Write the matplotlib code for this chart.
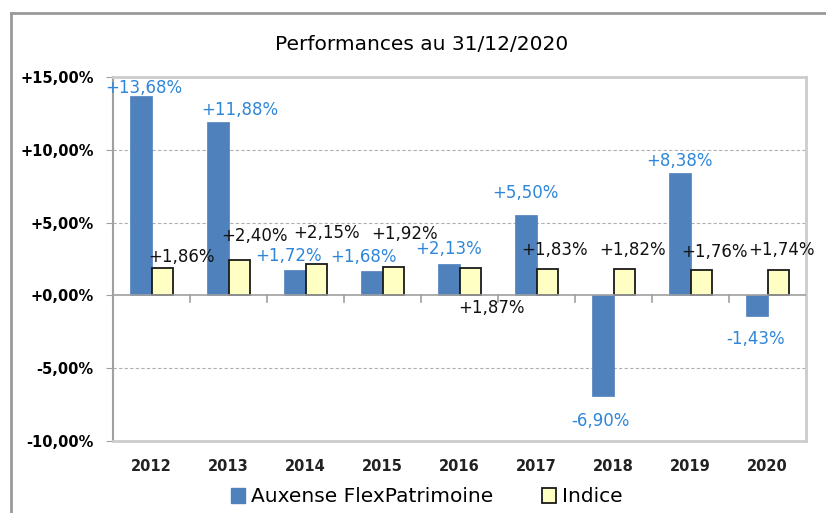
import numpy as np
from matplotlib import pyplot as plt
from matplotlib.lines import Line2D
from matplotlib.patches import Patch

# data
years = ['2012', '2013', '2014', '2015', '2016', '2017', '2018', '2019', '2020']
fund = [13.68, 11.88, 1.72, 1.68, 2.13, 5.50, -6.90, 8.38, -1.43]
index = [1.86, 2.40, 2.15, 1.92, 1.87, 1.83, 1.82, 1.76, 1.74]
title = 'Performances au 31/12/2020'
fund_name = 'Auxense FlexPatrimoine'
index_name = 'Indice'

# where the value labels were dragged to (pixels from the bar top)
fund_dx = [3, 22, -6, -8, 0, 0, -2, 0, -1]
fund_dy = [8, 12, 14, 14, 15, 22, -25, 12, -23]
index_dx = [19, 15, 10, 11, 21, 7, 8, 13, 3]
index_dy = [11, 24, 31, 33, -40, 19, 19, 18, 20]

blue = '#4F81BD'
yellow = '#FFFFC4'
label_blue = '#2F86D9'


def fmt(v):
    s = '%+.2f%%' % v
    return s.replace('.', ',')


fig = plt.figure(figsize=(8.26, 5.13), dpi=100)
ax = fig.add_axes([113 / 826, 1 - 441 / 513, 693 / 826, 364 / 513])

x = np.arange(len(years))
w = 0.285
ax.bar(x - w / 2, fund, w, color=blue, edgecolor=blue, linewidth=0.5, zorder=3)
ax.bar(x + w / 2, index, w, color=yellow, edgecolor='#1a1a1a', linewidth=1.3, zorder=3)

for i in range(len(years)):
    ax.annotate(fmt(fund[i]), (x[i] - w / 2, fund[i]), xytext=(fund_dx[i], fund_dy[i]),
                textcoords='offset pixels', ha='center', va='center',
                color=label_blue, fontsize=12, zorder=5)
    ax.annotate(fmt(index[i]), (x[i] + w / 2, index[i]), xytext=(index_dx[i], index_dy[i]),
                textcoords='offset pixels', ha='center', va='center',
                color='#111111', fontsize=12, zorder=5)

ax.set_xlim(-0.5, len(years) - 0.5)
ax.set_ylim(-10, 15)
yt = np.arange(-10, 16, 5)
ax.set_yticks(yt)
ax.set_yticklabels([fmt(v) for v in yt], fontsize=10.5, fontweight='bold')
for v in yt:
    if v not in (-10, 0, 15):
        ax.axhline(v, color='#b0b0b0', linestyle=(0, (3, 2)), linewidth=0.8, zorder=1)

# category axis sits at zero, ticks between categories
ax.axhline(0, color='#a0a0a0', linewidth=1.2, zorder=4)
for b in np.arange(0.5, len(years) - 0.5, 1):
    ax.plot([b, b], [0, -0.45], color='#a0a0a0', linewidth=1.2, zorder=4, clip_on=False)
ax.set_xticks(x)
ax.set_xticklabels(years, fontsize=10.5, fontweight='bold', color='#222222')
ax.tick_params(axis='x', length=0, pad=13)
ax.tick_params(axis='y', length=5, color='#a0a0a0', pad=9)

for side in ['top', 'right', 'bottom']:
    ax.spines[side].set_color('#cccccc')
    ax.spines[side].set_linewidth(2)
ax.spines['left'].set_color('#a0a0a0')
ax.spines['left'].set_linewidth(1.5)

fig.text(422 / 826, 1 - 44 / 513, title, ha='center', va='center', fontsize=14.5)

handles = [Patch(facecolor=blue, edgecolor=blue), Patch(facecolor=yellow, edgecolor='#1a1a1a', linewidth=1.3)]
fig.legend(handles, [fund_name, index_name], loc='center', bbox_to_anchor=(427 / 826, 1 - 497 / 513),
           ncol=2, frameon=False, fontsize=14.5, handlelength=0.7, handleheight=0.7,
           handletextpad=0.3, columnspacing=2.4, borderpad=0)

# chart area border (clipped on right/bottom in the original)
fig.add_artist(Line2D([11 / 826, 11 / 826], [0, 1 - 13 / 513], transform=fig.transFigure,
                      color='#999999', linewidth=2))
fig.add_artist(Line2D([11 / 826, 1], [1 - 13 / 513, 1 - 13 / 513], transform=fig.transFigure,
                      color='#999999', linewidth=2))

fig.savefig('out.png', dpi=100)
